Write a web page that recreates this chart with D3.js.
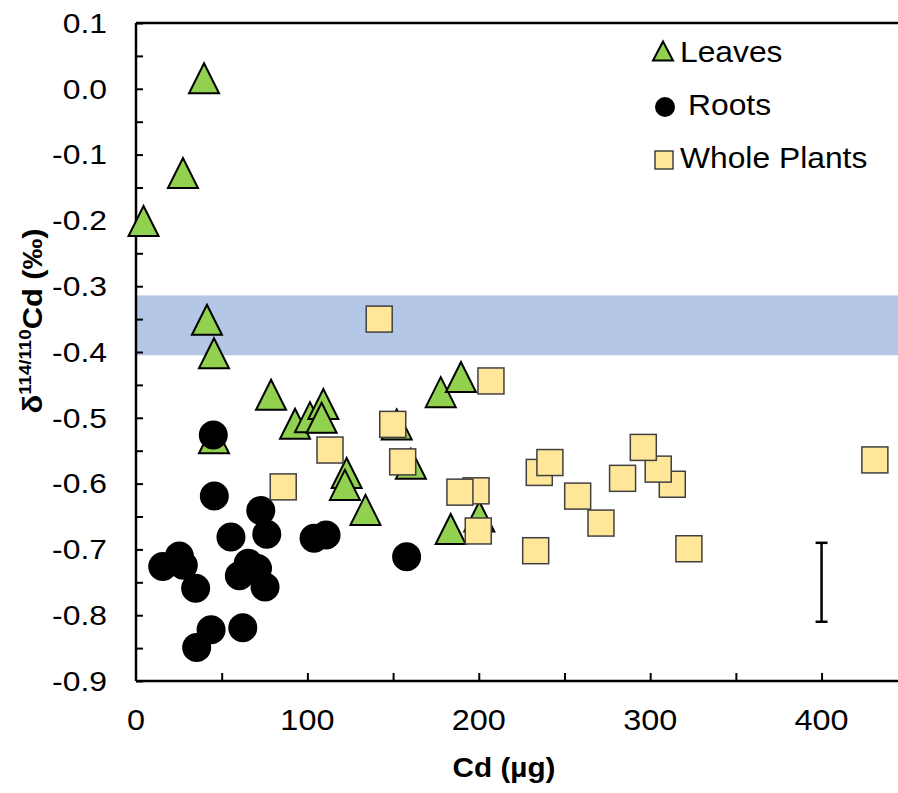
<!DOCTYPE html>
<html>
<head>
<meta charset="utf-8">
<script src="https://cdn.jsdelivr.net/npm/d3@7"></script>
<style>
  body { margin: 0; background: #fff; }
  svg text { font-family: Arial, "Liberation Sans", sans-serif; fill: #000; }
</style>
</head>
<body>
<div id="canvas"></div>
<script>
// Leaves (triangles)
const leavesX = [4.4, 27.4, 39.7, 41.4, 45.5, 78.8, 45.5, 92.8, 101.5, 109.3, 108.3, 122.9, 121.9, 133.9, 177.8, 189.6, 152.1, 160.4, 183.6, 200.3];
const leavesY = [-0.201, -0.128, 0.016, -0.351, -0.402, -0.465, -0.531, -0.509, -0.499, -0.479, -0.500, -0.584, -0.602, -0.640, -0.461, -0.438, -0.510, -0.570, -0.669, -0.650];

// Roots (circles)
const rootsX = [45.1, 45.7, 72.8, 55.4, 76.3, 103.9, 110.9, 15.6, 25.3, 27.6, 34.8, 60.3, 65.5, 70.9, 75.3, 43.8, 35.4, 62.3, 157.9];
const rootsY = [-0.526, -0.619, -0.641, -0.681, -0.677, -0.683, -0.678, -0.726, -0.710, -0.724, -0.759, -0.740, -0.721, -0.729, -0.757, -0.822, -0.849, -0.819, -0.711];

// Whole plants (squares)
const plantsX = [141.9, 207.1, 149.8, 113.2, 155.6, 85.9, 198.4, 189.0, 199.7, 233.2, 235.3, 241.5, 257.7, 271.3, 283.9, 312.9, 304.7, 296.0, 322.6, 431.1];
const plantsY = [-0.350, -0.444, -0.510, -0.549, -0.567, -0.605, -0.611, -0.613, -0.672, -0.702, -0.583, -0.568, -0.619, -0.660, -0.592, -0.601, -0.578, -0.545, -0.699, -0.564];

// shaded band and error bar
const band = [-0.314, -0.405];
const errBar = { x: 400, y0: -0.69, y1: -0.81 };

const xTicks = [0, 100, 200, 300, 400];
const xMinor = [50, 150, 250, 350];
const yTicks = [0.1, 0.0, -0.1, -0.2, -0.3, -0.4, -0.5, -0.6, -0.7, -0.8, -0.9];
const yMinor = [0.05, -0.05, -0.15, -0.25, -0.35, -0.45, -0.55, -0.65, -0.75, -0.85];

const legendItems = ["Leaves", "Roots", "Whole Plants"];

const width = 898;
const height = 793;
const margin = { top: 23, left: 136, bottom: 112, right: 0 };

const svg = d3.select("#canvas").append("svg")
  .attr("width", width)
  .attr("height", height);

const x = d3.scaleLinear().domain([0, 444.6]).range([margin.left, width - margin.right]);
const y = d3.scaleLinear().domain([-0.9, 0.1]).range([height - margin.bottom, margin.top]);

const fmt = (d) => d3.format(".1f")(d).replace("\u2212", "-");

// band
svg.append("rect")
  .attr("x", x(0) + 1)
  .attr("y", y(band[0]))
  .attr("width", x(444.6) - x(0))
  .attr("height", y(band[1]) - y(band[0]))
  .attr("fill", "#b4c7e7");

// axes
svg.append("line")
  .attr("x1", x(0)).attr("x2", width)
  .attr("y1", y(0.1)).attr("y2", y(0.1))
  .attr("stroke", "#000").attr("stroke-width", 2.5);

const yAxis = svg.append("g")
  .attr("transform", `translate(${x(0)},0)`)
  .call(d3.axisRight(y).tickValues(yTicks.concat(yMinor)).tickSize(7).tickFormat(""));
const xAxis = svg.append("g")
  .attr("transform", `translate(0,${y(-0.9)})`)
  .call(d3.axisTop(x).tickValues(xTicks.slice(1).concat(xMinor)).tickSize(8).tickFormat(""));

[yAxis, xAxis].forEach((g) => {
  g.select(".domain").attr("stroke", "#000").attr("stroke-width", 2.5);
  g.selectAll(".tick line").attr("stroke", "#000").attr("stroke-width", 2);
});
xAxis.select(".domain").attr("d", `M${x(0)},0H${width}`);
yAxis.select(".domain").attr("d", `M0,${y(0.1)}V${y(-0.9)}`);

// tick labels (the source text is a bit wide, hence the scaleX)
svg.selectAll(".ylab").data(yTicks).enter().append("text")
  .attr("class", "ylab")
  .attr("transform", (d) => `translate(107,${y(d)}) scale(1.18,1)`)
  .attr("dy", "0.36em")
  .attr("text-anchor", "end")
  .style("font-size", "27px")
  .text(fmt);

svg.selectAll(".xlab").data(xTicks).enter().append("text")
  .attr("class", "xlab")
  .attr("transform", (d) => `translate(${x(d)},730) scale(1.08,1)`)
  .attr("text-anchor", "middle")
  .style("font-size", "30px")
  .text((d) => d);

// axis titles
svg.append("text")
  .attr("transform", "translate(504,777) scale(1.1,1)")
  .attr("text-anchor", "middle")
  .style("font-size", "27px").style("font-weight", "bold")
  .text("Cd (\u00b5g)");

const yt = svg.append("text")
  .attr("transform", "translate(42,321) rotate(-90) scale(1.1,1)")
  .attr("text-anchor", "middle")
  .style("font-size", "28px").style("font-weight", "bold");
yt.append("tspan").text("\u03b4");
yt.append("tspan").attr("dy", -11).style("font-size", "17px").text("114/110");
yt.append("tspan").attr("dy", 11).text("Cd (\u2030)");

// markers
const tri = (cx, cy, w, h) => `M${cx},${cy - h / 2}L${cx + w / 2},${cy + h / 2}L${cx - w / 2},${cy + h / 2}Z`;

svg.append("g").selectAll("path").data(leavesX).enter().append("path")
  .attr("d", (d, i) => tri(x(d), y(leavesY[i]), 30, 30))
  .attr("fill", "#92d050")
  .attr("stroke", "#000")
  .attr("stroke-width", 2)
  .attr("stroke-linejoin", "miter");

svg.append("g").selectAll("circle").data(rootsX).enter().append("circle")
  .attr("cx", (d) => x(d))
  .attr("cy", (d, i) => y(rootsY[i]))
  .attr("r", 14.5)
  .attr("fill", "#000");

svg.append("g").selectAll("rect").data(plantsX).enter().append("rect")
  .attr("x", (d) => x(d) - 13)
  .attr("y", (d, i) => y(plantsY[i]) - 13)
  .attr("width", 26)
  .attr("height", 26)
  .attr("fill", "#ffe699")
  .attr("stroke", "#404040")
  .attr("stroke-width", 1.5);

// error bar
const eb = svg.append("g").attr("stroke", "#000").attr("stroke-width", 2.5);
eb.append("line").attr("x1", x(errBar.x)).attr("x2", x(errBar.x)).attr("y1", y(errBar.y0)).attr("y2", y(errBar.y1));
[errBar.y0, errBar.y1].forEach((v) => {
  eb.append("line").attr("x1", x(errBar.x) - 6).attr("x2", x(errBar.x) + 6).attr("y1", y(v)).attr("y2", y(v));
});

// legend
const lg = svg.append("g");
lg.append("path").attr("d", tri(663, 51, 20, 19)).attr("fill", "#92d050").attr("stroke", "#000").attr("stroke-width", 2);
lg.append("circle").attr("cx", 665).attr("cy", 107).attr("r", 10).attr("fill", "#000");
lg.append("rect").attr("x", 655).attr("y", 151).attr("width", 18).attr("height", 18)
  .attr("fill", "#ffe699").attr("stroke", "#404040").attr("stroke-width", 1.5);
lg.selectAll("text").data(legendItems).enter().append("text")
  .attr("transform", (d, i) => `translate(${i === 1 ? 688 : 680},${[62, 115, 168][i]}) scale(1.06,1)`)
  .style("font-size", "30px")
  .text((d) => d);
</script>
</body>
</html>
